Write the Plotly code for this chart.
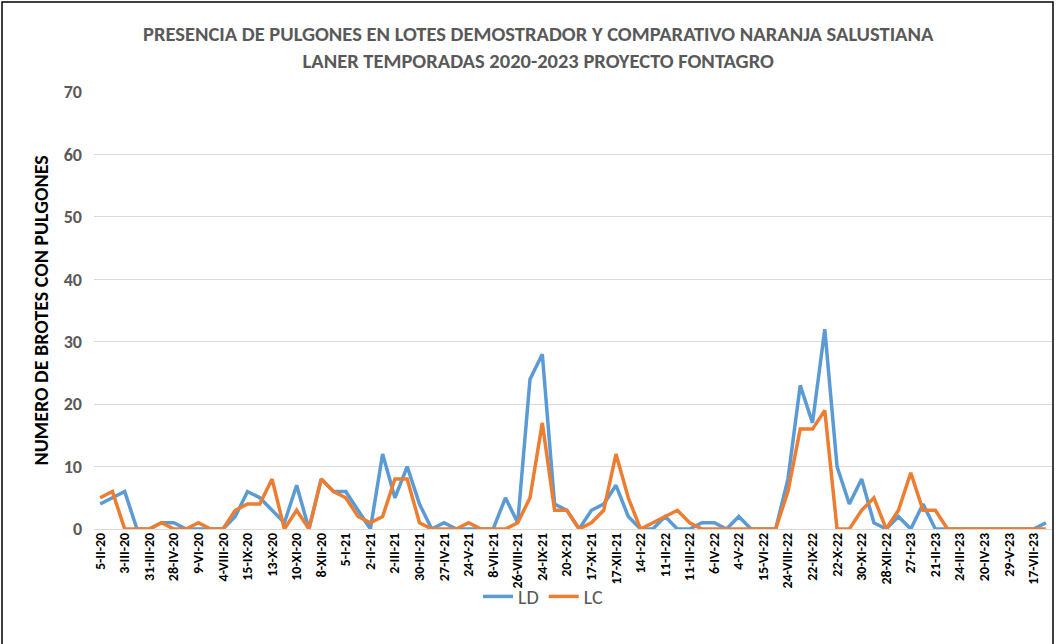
import plotly.graph_objects as go

# Fechas de muestreo (una etiqueta cada dos muestreos en el eje)
tick_labels = [
    "5-II-20", "3-III-20", "31-III-20", "28-IV-20", "9-VI-20", "4-VIII-20",
    "15-IX-20", "13-X-20", "10-XI-20", "8-XII-20", "5-I-21", "2-II-21",
    "2-III-21", "30-III-21", "27-IV-21", "24-V-21", "8-VII-21", "26-VIII-21",
    "24-IX-21", "20-X-21", "17-XI-21", "17-XII-21", "14-I-22", "11-II-22",
    "11-III-22", "6-IV-22", "4-V-22", "15-VI-22", "24-VIII-22", "22-IX-22",
    "22-X-22", "30-XI-22", "28-XII-22", "27-I-23", "21-II-23", "24-III-23",
    "20-IV-23", "29-V-23", "17-VII-23",
]

# Brotes con pulgones, lote demostrador (LD)
ld = [
    4, 5, 6, 0, 0, 1, 1, 0, 0, 0, 0, 2, 6, 5, 3, 1, 7, 0, 8, 6, 6, 3, 0, 12, 5, 10,
    4, 0, 1, 0, 0, 0, 0, 5, 1, 24, 28, 4, 3, 0, 3, 4, 7, 2, 0, 0, 2, 0, 0, 1, 1, 0,
    2, 0, 0, 0, 8, 23, 17, 32, 10, 4, 8, 1, 0, 2, 0, 4, 0, 0, 0, 0, 0, 0, 0, 0, 0, 1,
]

# Brotes con pulgones, lote comparativo (LC)
lc = [
    5, 6, 0, 0, 0, 1, 0, 0, 1, 0, 0, 3, 4, 4, 8, 0, 3, 0, 8, 6, 5, 2, 1, 2, 8, 8,
    1, 0, 0, 0, 1, 0, 0, 0, 1, 5, 17, 3, 3, 0, 1, 3, 12, 5, 0, 1, 2, 3, 1, 0, 0, 0,
    0, 0, 0, 0, 6, 16, 16, 19, 0, 0, 3, 5, 0, 3, 9, 3, 3, 0, 0, 0, 0, 0, 0, 0, 0, 0,
]

x = list(range(len(ld)))
tick_pos = x[::2]

W, H = 1056, 644
ML, MR, MT, MB = 94, 4, 92, 114.5
PW, PH = W - ML - MR, H - MT - MB

FONT = "Calibri, Carlito, 'Liberation Sans Narrow', 'DejaVu Sans Condensed', sans-serif"
GRAY = "#595959"

fig = go.Figure()
fig.add_trace(go.Scatter(x=x, y=ld, name="LD", mode="lines",
                         line=dict(color="#5B9BD5", width=3.5)))
fig.add_trace(go.Scatter(x=x, y=lc, name="LC", mode="lines",
                         line=dict(color="#ED7D31", width=3.5)))

fig.update_layout(
    width=W, height=H,
    margin=dict(l=ML, r=MR, t=MT, b=MB, autoexpand=False),
    paper_bgcolor="white", plot_bgcolor="white",
    font=dict(family=FONT, color=GRAY),
    showlegend=True,
    legend=dict(orientation="h", x=(543 - ML) / PW, xanchor="center",
                y=-(597 - (H - MB)) / PH, yanchor="middle",
                bgcolor="rgba(0,0,0,0)",
                font=dict(family=FONT, size=20, color=GRAY),
                itemwidth=30, tracegroupgap=0),
    xaxis=dict(
        range=[-0.5, len(ld) - 0.5],
        tickmode="array", tickvals=tick_pos,
        ticktext=[f"<b>{t}</b>" for t in tick_labels],
        tickangle=-90, tickfont=dict(family=FONT, size=14, color="black"),
        showgrid=False, zeroline=False, showline=False, ticks="",
    ),
    yaxis=dict(
        range=[0, 70], tickvals=list(range(0, 71, 10)),
        ticktext=[f"<b>{v}</b>" for v in range(0, 71, 10)],
        tickfont=dict(family=FONT, size=18, color=GRAY),
        showgrid=True, gridcolor="#D9D9D9", gridwidth=1,
        zeroline=True, zerolinecolor="#D9D9D9", zerolinewidth=1,
        showline=False, ticks="", ticklabelstandoff=11,
    ),
)

fig.add_annotation(
    text="<b>PRESENCIA DE PULGONES EN LOTES DEMOSTRADOR Y COMPARATIVO NARANJA SALUSTIANA</b>"
         "<br><b>LANER TEMPORADAS 2020-2023 PROYECTO FONTAGRO</b>",
    xref="paper", yref="paper", x=(538 - ML) / PW, y=(H - MB - 47) / PH,
    xanchor="center", yanchor="middle", showarrow=False,
    font=dict(family=FONT, size=20.5, color=GRAY), align="center",
)
fig.add_annotation(
    text="<b>NUMERO DE BROTES CON PULGONES</b>",
    xref="paper", yref="paper", x=(40 - ML) / PW, y=0.5,
    xanchor="center", yanchor="middle", showarrow=False, textangle=-90,
    font=dict(family=FONT, size=20, color="black"),
)

# Marco del gráfico
fig.add_shape(type="rect", xref="paper", yref="paper",
              x0=(2 - ML) / PW, x1=(1053 - ML) / PW,
              y0=(H - MB - 660) / PH, y1=(H - MB - 2) / PH,
              line=dict(color="black", width=1.5), fillcolor="rgba(0,0,0,0)")

fig.write_html("out.html")
